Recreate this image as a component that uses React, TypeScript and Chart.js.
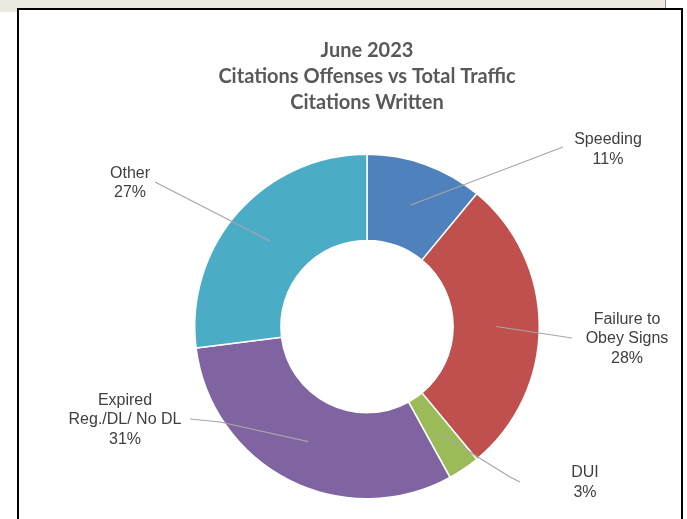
import React, { useEffect, useRef } from "react";
import { Chart, registerables } from "chart.js";

Chart.register(...registerables);

// ---- data ----
const categories = ["Speeding", "Failure to Obey Signs", "DUI", "Expired Reg./DL/ No DL", "Other"];
const labelLines = [["Speeding"], ["Failure to", "Obey Signs"], ["DUI"], ["Expired", "Reg./DL/ No DL"], ["Other"]];
const percentages = [11, 28, 3, 31, 27];
const titleLines = ["June 2023", "Citations Offenses vs Total Traffic", "Citations Written"];

// ---- styles / layout ----
const sliceColors = ["#4F81BD", "#C0504D", "#9BBB59", "#8064A2", "#4BACC6"];
// label placement relative to the doughnut centre (px)
const labelPlacement: { text: number[]; end: number[]; elbow?: number[] }[] = [
  { text: [241, -177], end: [196, -179.5] },
  { text: [260, 12.5], end: [205, 11.5] },
  { text: [218, 156], end: [153, 155.5], elbow: [143, 150.5] },
  { text: [-242, 93.5], end: [-177, 92.5], elbow: [-147, 95.5] },
  { text: [-237, -143.5], end: [-212, -144.5] },
];

const leaderLabels = {
  id: "leaderLabels",
  afterDatasetsDraw(chart: any) {
    const meta = chart.getDatasetMeta(0);
    const ctx: CanvasRenderingContext2D = chart.ctx;
    const cx = meta.data[0].x;
    const cy = meta.data[0].y;
    ctx.save();
    meta.data.forEach((arc: any, i: number) => {
      const p = arc.tooltipPosition(true);
      const pl = labelPlacement[i];
      ctx.strokeStyle = "#A6A6A6";
      ctx.lineWidth = 1.2;
      ctx.beginPath();
      ctx.moveTo(p.x, p.y);
      if (pl.elbow) ctx.lineTo(cx + pl.elbow[0], cy + pl.elbow[1]);
      ctx.lineTo(cx + pl.end[0], cy + pl.end[1]);
      ctx.stroke();

      const lines = [...labelLines[i], percentages[i] + "%"];
      const lh = 19.3;
      const startY = cy + pl.text[1] - ((lines.length - 1) * lh) / 2;
      ctx.font = "16px 'Liberation Sans', Arial, sans-serif";
      ctx.fillStyle = "#404040";
      ctx.textAlign = "center";
      ctx.textBaseline = "middle";
      lines.forEach((t, j) => ctx.fillText(t, cx + pl.text[0], startY + j * lh));
    });
    ctx.restore();
  },
};

export default function App() {
  const canvasRef = useRef<HTMLCanvasElement | null>(null);

  useEffect(() => {
    if (!canvasRef.current) return;
    const chart = new Chart(canvasRef.current, {
      type: "doughnut",
      data: {
        labels: categories,
        datasets: [
          {
            data: percentages,
            backgroundColor: sliceColors,
            borderColor: "#FFFFFF",
            borderWidth: 1.5,
          },
        ],
      },
      options: {
        responsive: false,
        animation: false,
        events: [],
        cutout: "50%",
        layout: { padding: { left: 194, right: 147, top: 17.5, bottom: 19.5 } },
        plugins: {
          legend: { display: false },
          tooltip: { enabled: false },
          title: {
            display: true,
            text: titleLines,
            color: "#595959",
            font: { family: "Lato, 'Noto Sans', sans-serif", size: 20, weight: "bold", lineHeight: 1.3 },
            padding: { top: 20, bottom: 38 },
          },
        },
      },
      plugins: [leaderLabels],
    });
    return () => chart.destroy();
  }, []);

  return (
    <div
      style={{
        position: "fixed",
        left: 0,
        top: 0,
        width: 687,
        height: 519,
        overflow: "hidden",
        background: "#FFFFFF",
      }}
    >
      <div
        style={{
          position: "absolute",
          left: 0,
          top: 0,
          width: 665,
          height: 12,
          background: "#ECEADF",
          borderRight: "1px solid #8A8A8A",
        }}
      />
      <div
        style={{
          position: "absolute",
          left: 17,
          top: 8,
          width: 662,
          height: 560,
          background: "#FFFFFF",
          border: "2.5px solid #000000",
        }}
      />
      <canvas
        ref={canvasRef}
        width={687}
        height={519}
        style={{ position: "absolute", left: 0, top: 0, width: 687, height: 519 }}
      />
    </div>
  );
}
